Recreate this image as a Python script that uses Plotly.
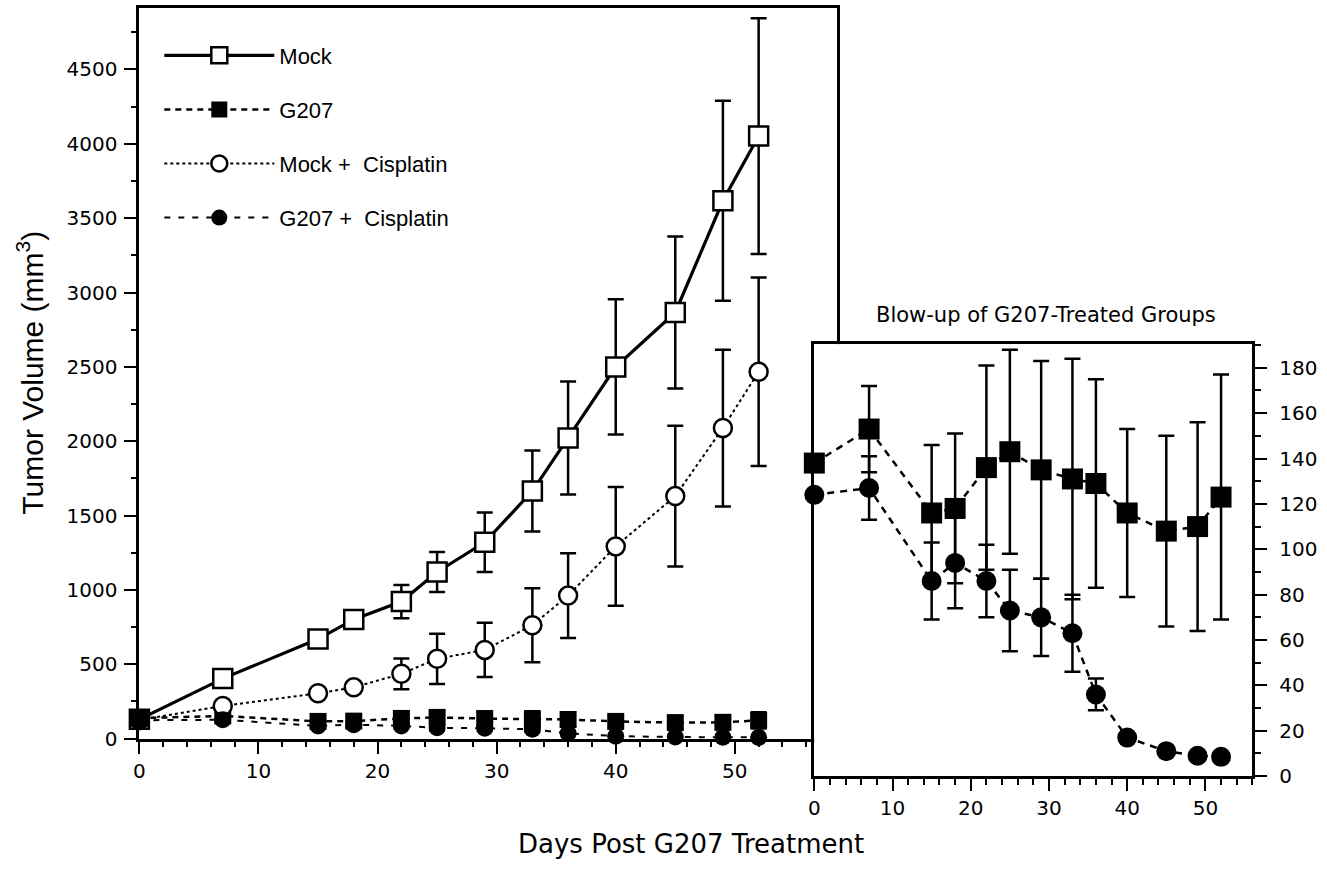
import plotly.graph_objects as go

# ---------------- data ----------------
days = [0, 7, 15, 18, 22, 25, 29, 33, 36, 40, 45, 49, 52]

mock = [130, 404, 670, 802, 922, 1121, 1320, 1665, 2022, 2500, 2866, 3617, 4052]
mock_err = [0, 30, 40, 45, 112, 135, 200, 272, 380, 455, 511, 673, 793]

mock_cis = [125, 220, 305, 345, 436, 537, 597, 763, 962, 1293, 1631, 2089, 2467]
mock_cis_err = [0, 25, 30, 35, 103, 169, 182, 249, 285, 400, 474, 527, 634]

g207 = [138, 153, 116, 118, 136, 143, 135, 131, 129, 116, 108, 110, 123]
g207_err = [0, 19, 30, 33, 45, 45, 48, 53, 46, 37, 42, 46, 54]

g207_cis = [124, 127, 86, 94, 86, 73, 70, 63, 36, 17, 11, 9, 8.5]
g207_cis_err = [0, 14, 17, 20, 16, 18, 17, 17, 7, 0, 0, 0, 0]

series_names = ["Mock", "G207", "Mock +  Cisplatin", "G207 +  Cisplatin"]
x_title = "Days Post G207 Treatment"
y_title = "Tumor Volume (mm<sup>3</sup>)"
inset_title = "Blow-up of G207-Treated Groups"

# ---------------- geometry (pixels in a 1327x870 canvas) ----------------
W, H = 1327, 870
MAIN_L, MAIN_R, MAIN_T, MAIN_B = 134, 835, 8, 749
INS_L, INS_R, INS_T, INS_B = 812, 1252, 349, 787
MAIN_XMAX, MAIN_YMAX = 58.6, 4914
INS_XMAX, INS_YMAX = 56, 190.4


def fx(p):
    return p / W


def fy(p):
    return 1 - p / H


BLACK = "black"
TICKFONT = dict(family="DejaVu Sans", size=20, color=BLACK)


def err(arr, w=8):
    return dict(type="data", array=arr, visible=True, color=BLACK,
                thickness=2.5, width=w)


fig = go.Figure()

# ---------------- main panel ----------------
fig.add_trace(go.Scatter(
    x=days, y=mock, name=series_names[0], legendgroup="a",
    mode="lines+markers",
    line=dict(color=BLACK, width=3.2),
    marker=dict(symbol="square", size=19, color="white",
                line=dict(color=BLACK, width=2.5)),
    error_y=err(mock_err), cliponaxis=False,
))
fig.add_trace(go.Scatter(
    x=days, y=g207, name=series_names[1], legendgroup="b",
    mode="lines+markers",
    line=dict(color=BLACK, width=2.5, dash="6px,5px"),
    marker=dict(symbol="square", size=17, color=BLACK),
    error_y=err(g207_err), cliponaxis=False,
))
fig.add_trace(go.Scatter(
    x=days, y=mock_cis, name=series_names[2], legendgroup="c",
    mode="lines+markers",
    line=dict(color=BLACK, width=2, dash="dot"),
    marker=dict(symbol="circle", size=18, color="white",
                line=dict(color=BLACK, width=2.5)),
    error_y=err(mock_cis_err), cliponaxis=False,
))
fig.add_trace(go.Scatter(
    x=days, y=g207_cis, name=series_names[3], legendgroup="d",
    mode="lines+markers",
    line=dict(color=BLACK, width=2, dash="6px,8px"),
    marker=dict(symbol="circle", size=17, color=BLACK),
    error_y=err(g207_cis_err), cliponaxis=False,
))

# ---------------- inset panel ----------------
fig.add_trace(go.Scatter(
    x=days, y=g207, name=series_names[1], showlegend=False,
    xaxis="x2", yaxis="y2", mode="lines+markers",
    line=dict(color=BLACK, width=2.5, dash="7px,6px"),
    marker=dict(symbol="square", size=21, color=BLACK),
    error_y=err(g207_err), cliponaxis=False,
))
fig.add_trace(go.Scatter(
    x=days, y=g207_cis, name=series_names[3], showlegend=False,
    xaxis="x2", yaxis="y2", mode="lines+markers",
    line=dict(color=BLACK, width=2.5, dash="7px,6px"),
    marker=dict(symbol="circle", size=20, color=BLACK),
    error_y=err(g207_cis_err), cliponaxis=False,
))

axis_common = dict(showgrid=False, zeroline=False, showline=True,
                   linecolor=BLACK, linewidth=3, mirror=True,
                   ticks="outside", tickcolor=BLACK, tickwidth=2,
                   ticklen=12, tickfont=TICKFONT, tickmode="linear",
                   tick0=0)

fig.update_layout(
    width=W, height=H, autosize=False,
    margin=dict(l=0, r=0, t=0, b=0, pad=0),
    paper_bgcolor="white", plot_bgcolor="white",
    font=dict(family="DejaVu Sans", color=BLACK),
    xaxis=dict(axis_common, domain=[fx(MAIN_L), fx(MAIN_R)],
               range=[0, MAIN_XMAX], dtick=10, anchor="y",
               minor=dict(ticks="outside", dtick=2, tick0=0, ticklen=5,
                          tickwidth=2, tickcolor=BLACK)),
    yaxis=dict(axis_common, domain=[fy(MAIN_B), fy(MAIN_T)],
               range=[0, MAIN_YMAX], dtick=500, anchor="x",
               ticklabelstandoff=3,
               minor=dict(ticks="outside", dtick=250, tick0=0, ticklen=5,
                          tickwidth=2, tickcolor=BLACK)),
    xaxis2=dict(axis_common, domain=[fx(INS_L), fx(INS_R)],
                range=[0, INS_XMAX], dtick=10, anchor="y2",
                minor=dict(ticks="outside", dtick=2, tick0=0, ticklen=6,
                           tickwidth=2, tickcolor=BLACK)),
    yaxis2=dict(axis_common, domain=[fy(INS_B), fy(INS_T)],
                range=[0, INS_YMAX], dtick=20, anchor="x2", side="right",
                ticklabelstandoff=8,
                minor=dict(ticks="outside", dtick=10, tick0=0, ticklen=6,
                           tickwidth=2, tickcolor=BLACK)),
    showlegend=True,
    legend=dict(x=fx(154), y=fy(35), xanchor="left", yanchor="top",
                font=dict(family="Liberation Sans", size=22, color=BLACK),
                bgcolor="rgba(0,0,0,0)", traceorder="grouped",
                tracegroupgap=22.5, itemwidth=110),
    shapes=[dict(type="rect", xref="x2", yref="y2", x0=0, x1=INS_XMAX,
                 y0=0, y1=INS_YMAX, fillcolor="white",
                 line=dict(width=0), layer="below")],
    annotations=[
        dict(text=inset_title, xref="paper", yref="paper",
             x=fx(1045), y=fy(319), xanchor="center", yanchor="middle",
             showarrow=False,
             font=dict(family="DejaVu Sans", size=21, color=BLACK)),
        dict(text=x_title, xref="paper", yref="paper",
             x=fx(688), y=fy(856), xanchor="center", yanchor="middle",
             showarrow=False,
             font=dict(family="DejaVu Sans", size=26, color=BLACK)),
        dict(text=y_title, xref="paper", yref="paper",
             x=fx(24), y=fy(378), xanchor="center", yanchor="middle",
             showarrow=False, textangle=-90,
             font=dict(family="Liberation Sans", size=30, color=BLACK)),
    ],
)

fig.write_html("out.html", config={"displayModeBar": False},
               post_script="document.body.style.margin='0';")
